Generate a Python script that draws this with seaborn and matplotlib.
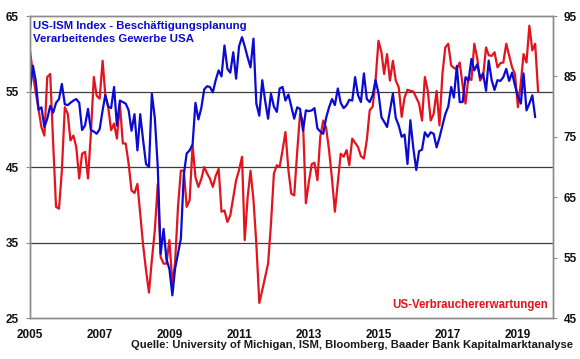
import matplotlib
matplotlib.use('Agg')
import matplotlib.pyplot as plt
import matplotlib.dates as mdates
import pandas as pd
import seaborn as sns

# Monthly data, Jan 2005 - Aug 2019
ism_employment = [
    55.1, 58.4, 56.5, 52.6, 52.9, 50.3, 51.4, 53.1, 52.2, 53.5, 54.0, 56.0,
    53.3, 53.2, 53.5, 53.8, 54.0, 53.5, 49.9, 50.5, 52.7, 49.9, 49.7, 49.4,
    50.0, 52.5, 54.5, 53.0, 52.8, 55.6, 50.5, 53.8, 53.6, 53.4, 52.5, 49.8,
    52.0, 47.2, 52.0, 48.5, 45.4, 45.0, 54.7, 51.5, 45.0, 33.5, 36.8, 32.8,
    31.5, 28.0, 31.5, 33.5, 35.5, 44.0, 46.8, 47.2, 48.0, 53.5, 51.3, 52.8,
    55.3, 55.7, 55.6, 54.9, 56.5, 57.8, 57.0, 61.1, 58.0, 57.5, 60.2, 56.7,
    61.0, 62.2, 61.0, 59.5, 58.2, 62.0, 53.4, 51.8, 56.5, 53.8, 51.4, 54.7,
    53.0, 52.3, 55.4, 55.6, 53.8, 54.6, 53.0, 51.4, 52.9, 52.7, 49.8, 52.5,
    52.4, 52.5, 52.8, 50.1, 49.7, 49.4, 51.5, 52.9, 54.0, 53.2, 55.4, 53.5,
    52.8, 53.2, 53.9, 53.8, 56.9, 54.5, 53.6, 57.4, 54.0, 53.6, 54.5, 56.5,
    54.8, 51.6, 51.0, 50.3, 52.5, 54.7, 51.5, 50.5, 49.0, 49.3, 45.4, 51.2,
    47.5, 44.6, 47.1, 47.3, 49.6, 49.0, 49.6, 49.4, 47.6, 48.9, 50.5, 52.0,
    53.0, 55.6, 54.2, 58.4, 53.6, 53.6, 56.9, 56.4, 59.3, 57.8, 58.6, 56.8,
    57.4, 55.1, 59.1, 56.5, 55.2, 56.5, 56.4, 56.9, 58.0, 56.4, 57.5, 55.8,
    54.4, 53.4, 57.4, 52.5, 53.4, 54.5, 51.6,
]

consumer_expectations = [
    89.3, 85.4, 82.5, 79.5, 76.6, 75.2, 84.9, 85.4, 73.9, 63.4, 63.1, 69.4,
    79.9, 78.8, 74.4, 75.2, 73.3, 68.1, 72.2, 72.5, 68.1, 75.5, 84.9, 81.8,
    81.3, 87.6, 82.0, 79.9, 76.1, 77.2, 74.7, 80.5, 73.9, 73.9, 70.5, 66.1,
    65.7, 67.2, 62.3, 57.0, 52.9, 49.2, 54.6, 59.5, 67.2, 55.1, 54.0, 54.0,
    57.9, 50.7, 54.0, 63.4, 69.4, 69.4, 63.4, 64.5, 73.6, 68.3, 66.7, 68.0,
    70.0, 68.9, 68.1, 66.7, 68.5, 69.7, 62.6, 62.8, 60.9, 62.0, 65.0, 67.8,
    69.5, 71.7, 57.9, 65.0, 69.4, 64.5, 57.3, 47.5, 49.6, 51.8, 54.0, 60.5,
    68.9, 70.3, 70.0, 72.8, 75.8, 69.5, 65.6, 65.3, 72.5, 78.8, 77.5, 64.0,
    67.5, 70.5, 70.7, 67.8, 75.0, 77.7, 76.5, 72.8, 68.0, 62.6, 67.5, 72.2,
    71.7, 72.8, 70.3, 74.7, 74.0, 73.3, 71.8, 71.4, 74.5, 79.4, 80.0, 84.3,
    90.9, 89.0, 85.4, 88.7, 84.3, 87.6, 84.3, 83.2, 78.3, 81.5, 82.8, 82.6,
    82.5, 81.5, 80.5, 77.7, 84.9, 82.6, 77.7, 78.8, 82.6, 76.9, 85.4, 89.8,
    90.4, 86.8, 86.4, 86.2, 87.3, 83.5, 80.5, 84.9, 84.4, 90.4, 88.0, 84.3,
    85.0, 89.8, 88.5, 88.4, 89.0, 86.5, 87.2, 87.3, 90.4, 88.5, 86.5, 85.4,
    79.9, 84.0, 88.7, 87.3, 93.4, 89.3, 90.4, 82.4,
]

months = pd.date_range('2005-01-01', periods=len(consumer_expectations), freq='MS')
df_ism = pd.DataFrame({'date': months[:len(ism_employment)], 'value': ism_employment})
df_ver = pd.DataFrame({'date': months, 'value': consumer_expectations})

left_ticks = [25, 35, 45, 55, 65]
right_ticks = [45, 55, 65, 75, 85, 95]
year_ticks = [str(y) for y in range(2005, 2021, 2)]

blue = '#0A0AD2'
red = '#E3141E'
gray = '#8C8C8C'

sns.set_style('white')
plt.rcParams['font.family'] = ['Liberation Sans', 'DejaVu Sans']
plt.rcParams['font.weight'] = 'bold'

fig = plt.figure(figsize=(5.8, 3.59), dpi=100)
ax = fig.add_axes([0.0517, 0.1142, 0.9013, 0.8412])
ax2 = ax.twinx()
# blue series drawn above the red one
ax2.set_zorder(1)
ax.set_zorder(2)
ax.patch.set_visible(False)

# horizontal guide lines at left-axis 35/45/55, drawn under the lines
for v in left_ticks[1:-1]:
    ax2.axhline(45 + (v - 25) * 50 / 40, color='#3C3C3C', linewidth=0.9, zorder=0)

sns.lineplot(data=df_ver, x='date', y='value', ax=ax2, color=red, linewidth=1.6)
sns.lineplot(data=df_ism, x='date', y='value', ax=ax, color=blue, linewidth=1.6)

ax.set_xlim(pd.Timestamp('2005-01-01'), pd.Timestamp('2020-01-01'))
ax.set_ylim(25, 65)
ax2.set_ylim(45, 95)
ax.set_yticks(left_ticks)
ax2.set_yticks(right_ticks)
ax.set_xticks([pd.Timestamp(y + '-01-01') for y in year_ticks])
ax.xaxis.set_major_formatter(mdates.DateFormatter('%Y'))

for a in (ax, ax2):
    a.set_xlabel('')
    a.set_ylabel('')
    for s in a.spines.values():
        s.set_color(gray)
        s.set_linewidth(1.0)
    a.tick_params(axis='both', direction='out', length=3, width=0.8, color=gray,
                  labelsize=8.5, labelcolor='#111111', pad=5)

fig.text(0.057, 0.92, 'US-ISM Index - Beschäftigungsplanung', color=blue,
         fontsize=8.2, fontweight='bold', ha='left', va='baseline')
fig.text(0.057, 0.883, 'Verarbeitendes Gewerbe USA', color=blue,
         fontsize=8.2, fontweight='bold', ha='left', va='baseline')
fig.text(0.945, 0.142, 'US-Verbrauchererwartungen', color=red,
         fontsize=8.3, fontweight='bold', ha='right', va='baseline')
fig.text(0.988, 0.03, 'Quelle: University of Michigan, ISM, Bloomberg, Baader Bank Kapitalmarktanalyse',
         color='#1A1A1A', fontsize=8.1, fontweight='bold', ha='right', va='baseline')

fig.savefig('out.png', dpi=100)
